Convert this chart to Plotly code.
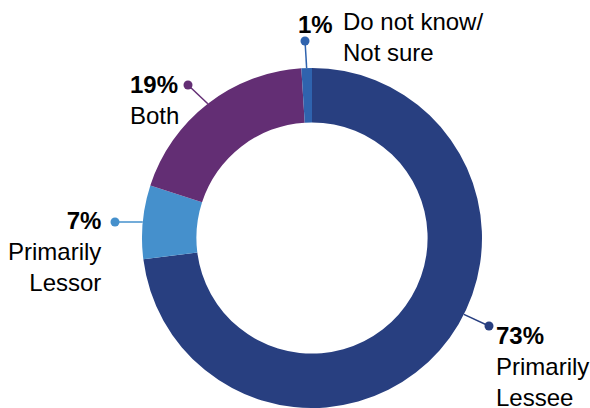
import math
import plotly.graph_objects as go

# ---- data ----
categories = ["Primarily Lessee", "Primarily Lessor", "Both", "Do not know/ Not sure"]
values = [73, 7, 19, 1]
pct_labels = ["73%", "7%", "19%", "1%"]
text_labels = ["Primarily<br>Lessee", "Primarily<br>Lessor", "Both", "Do not know/<br>Not sure"]
colors = ["#283F80", "#4590CC", "#632E74", "#2F63AE"]

# ---- layout constants (pixels) ----
W, H = 590, 408
CX, CY, R = 312, 238, 170
HOLE = 0.68
FONT = "Liberation Sans, Arial, Helvetica, sans-serif"
FS = 24

def px(x):
    return x / W

def py(y):
    return 1 - y / H

fig = go.Figure()
fig.add_trace(go.Pie(
    labels=categories,
    values=values,
    marker=dict(colors=colors, line=dict(width=0)),
    hole=HOLE,
    sort=False,
    direction="clockwise",
    rotation=0,
    textinfo="none",
    hoverinfo="label+percent",
    showlegend=False,
    domain=dict(x=[px(CX - R), px(CX + R)], y=[py(CY + R), py(CY - R)]),
))

# callout geometry: angle where line leaves ring, dot position
total = sum(values)
cum = 0
mids = []
for v in values:
    mids.append((cum + v / 2) / total * 360)
    cum += v
callout_angle = [116.7, mids[1], mids[2], mids[3]]
dots = [(489, 326), (115, 222), (188, 85), (305, 41)]

shapes = []
for i in range(len(values)):
    a = math.radians(callout_angle[i])
    sx = CX + R * math.sin(a)
    sy = CY - R * math.cos(a)
    dx, dy = dots[i]
    shapes.append(dict(type="line", xref="paper", yref="paper",
                       x0=px(sx), y0=py(sy), x1=px(dx), y1=py(dy),
                       line=dict(color=colors[i], width=1.5)))
    rr = 4.5
    shapes.append(dict(type="circle", xref="paper", yref="paper",
                       x0=px(dx - rr), x1=px(dx + rr), y0=py(dy + rr), y1=py(dy - rr),
                       fillcolor=colors[i], line=dict(width=0)))

ann = []
# Primarily Lessee
ann.append(dict(x=px(494), y=py(366), xanchor="left", yanchor="middle", align="left",
                text=f"<b>{pct_labels[0]}</b><br>{text_labels[0]}"))
# Primarily Lessor
ann.append(dict(x=px(103), y=py(251), xanchor="right", yanchor="middle", align="right",
                text=f"<b>{pct_labels[1]}</b><br>{text_labels[1]}"))
# Both
ann.append(dict(x=px(128), y=py(100), xanchor="left", yanchor="middle", align="left",
                text=f"<b>{pct_labels[2]}</b><br>{text_labels[2]}"))
# Do not know
ann.append(dict(x=px(335), y=py(24), xanchor="right", yanchor="middle", align="right",
                text=f"<b>{pct_labels[3]}</b>"))
ann.append(dict(x=px(341), y=py(37), xanchor="left", yanchor="middle", align="left",
                text=text_labels[3]))
for a in ann:
    a.update(xref="paper", yref="paper", showarrow=False,
             font=dict(family=FONT, size=FS, color="#000000"))

fig.update_layout(
    width=W, height=H,
    margin=dict(l=0, r=0, t=0, b=0),
    paper_bgcolor="white", plot_bgcolor="white",
    shapes=shapes, annotations=ann,
)

fig.write_html("out.html", config={"displayModeBar": False},
               post_script="document.body.style.margin='0';")
